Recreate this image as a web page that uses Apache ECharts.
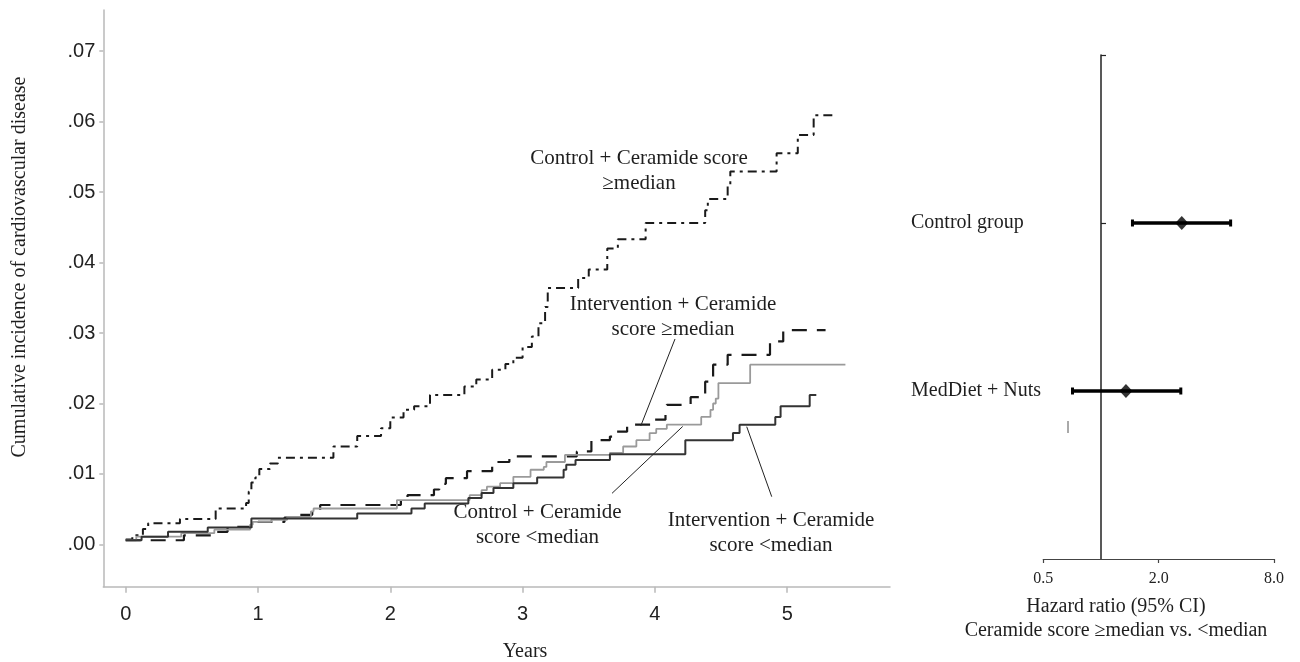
<!DOCTYPE html>
<html>
<head>
<meta charset="utf-8">
<script src="https://cdn.jsdelivr.net/npm/echarts@6/dist/echarts.min.js"></script>
<style>html,body{margin:0;padding:0;background:#fff}#main{width:1300px;height:662px}</style>
</head>
<body>
<div id="main"></div>
<script>
/* Control + Ceramide score >=median */
var ctrlHighT = [0, 0.05, 0.13, 0.17, 0.41, 0.68, 0.91, 0.93, 0.95, 0.98, 1.01, 1.09, 1.15, 1.57, 1.75, 1.93, 2.00, 2.10, 2.18, 2.30, 2.56, 2.65, 2.77, 2.87, 2.93, 3.00, 3.07, 3.12, 3.17, 3.19, 3.42, 3.50, 3.64, 3.72, 3.93, 4.38, 4.40, 4.55, 4.57, 4.92, 5.08, 5.20, 5.37];
var ctrlHighV = [0.0007, 0.0013, 0.0022, 0.0030, 0.0036, 0.0051, 0.0059, 0.0075, 0.0088, 0.0095, 0.0107, 0.0115, 0.0123, 0.0139, 0.0154, 0.0165, 0.0180, 0.0191, 0.0196, 0.0212, 0.0224, 0.0234, 0.0248, 0.0256, 0.0265, 0.0280, 0.0295, 0.0314, 0.0337, 0.0364, 0.0378, 0.0390, 0.0420, 0.0433, 0.0456, 0.0474, 0.0490, 0.0508, 0.0529, 0.0555, 0.0581, 0.0609, 0.0609];
/* Intervention + Ceramide score >=median */
var intHighT = [0, 0.44, 0.67, 0.77, 1.00, 1.20, 1.30, 1.41, 1.47, 2.08, 2.13, 2.33, 2.37, 2.42, 2.58, 2.77, 2.90, 3.41, 3.52, 3.66, 3.70, 3.79, 3.99, 4.08, 4.09, 4.27, 4.38, 4.44, 4.55, 4.87, 4.97, 5.29];
var intHighV = [0.0006, 0.0013, 0.0018, 0.0025, 0.0032, 0.0038, 0.0042, 0.0049, 0.0056, 0.0063, 0.0070, 0.0078, 0.0086, 0.0094, 0.0104, 0.0117, 0.0125, 0.0132, 0.0148, 0.0153, 0.0160, 0.0170, 0.0177, 0.0186, 0.0198, 0.0209, 0.0231, 0.0255, 0.0269, 0.0288, 0.0304, 0.0304];
/* Control + Ceramide score <median */
var ctrlLowT = [0, 0.08, 0.42, 0.67, 0.94, 0.96, 1.10, 1.22, 1.40, 1.42, 2.05, 2.60, 2.69, 2.73, 2.83, 2.93, 3.06, 3.16, 3.18, 3.32, 3.66, 3.76, 3.86, 3.96, 4.01, 4.09, 4.35, 4.42, 4.44, 4.46, 4.48, 4.72, 5.44];
var ctrlLowV = [0.0006, 0.0011, 0.0016, 0.0021, 0.0028, 0.0032, 0.0035, 0.0039, 0.0047, 0.0051, 0.0063, 0.0070, 0.0077, 0.0082, 0.0087, 0.0096, 0.0106, 0.0110, 0.0117, 0.0127, 0.0130, 0.0139, 0.0148, 0.0158, 0.0164, 0.0170, 0.0181, 0.0191, 0.0200, 0.0207, 0.0229, 0.0255, 0.0255];
/* Intervention + Ceramide score <median */
var intLowT = [0, 0.12, 0.32, 0.62, 0.95, 1.75, 2.16, 2.26, 2.59, 2.69, 2.78, 2.93, 3.11, 3.31, 3.33, 3.40, 3.66, 4.23, 4.59, 4.64, 4.91, 4.95, 5.17, 5.22];
var intLowV = [0.0006, 0.0011, 0.0018, 0.0024, 0.0037, 0.0044, 0.0051, 0.0058, 0.0066, 0.0073, 0.0080, 0.0087, 0.0095, 0.0106, 0.0113, 0.0120, 0.0128, 0.0148, 0.0158, 0.0170, 0.0181, 0.0196, 0.0212, 0.0212];

/* 坐标轴刻度 */
var yearTicks = [0, 1, 2, 3, 4, 5];
var incTicks = [0, 0.01, 0.02, 0.03, 0.04, 0.05, 0.06, 0.07];
var hrTicks = [0.5, 2, 8];

/* 标注引线 [年, 发生率] */
var leadIntHigh = [[4.152, 0.02915], [3.893, 0.01681]];
var leadCtrlLow = [[3.676, 0.00726], [4.210, 0.01674]];
var leadIntLow = [[4.883, 0.00678], [4.694, 0.01671]];

/* 森林图 */
var forestLabels = ['Control group', 'MedDiet + Nuts'];
var forestRow = [1, 2];
var forestHR = [2.64, 1.35];
var forestLo = [1.46, 0.71];
var forestHi = [4.75, 2.61];

var SERIF = '"Liberation Serif", "Times New Roman", serif';
var SANS = '"Liberation Sans", Arial, sans-serif';
var AXIS_GRAY = '#b9b9b9';

function pairs(t, v) {
	var out = [];
	for (var i = 0; i < t.length; i++) {
		out.push([t[i], v[i]]);
	}
	return out;
}
function lead(p) {
	return [{coord: p[0]}, {coord: p[1]}];
}
function kmLine(name, t, v, color, width, dash, extra) {
	var s = {
		name: name, type: 'line', xAxisIndex: 0, yAxisIndex: 0,
		step: 'end', showSymbol: false, symbol: 'none', animation: false,
		lineStyle: {color: color, width: width, type: dash, cap: 'butt'},
		data: pairs(t, v)
	};
	if (extra) s.markLine = extra;
	return s;
}
function txt(x, y, s, size, align, extra) {
	var st = {text: s, font: size + 'px ' + SERIF, fill: '#1e1e1e', lineHeight: 25,
		align: align, verticalAlign: 'middle', textAlign: align, textVerticalAlign: 'middle'};
	var el = {type: 'text', x: x, y: y, style: st};
	if (extra) el.rotation = extra;
	return el;
}

var forestBars = [];
var forestPts = [];
for (var i = 0; i < forestHR.length; i++) {
	forestBars.push([forestHR[i], forestLo[i], forestHi[i], forestRow[i]]);
	forestPts.push([forestHR[i], forestRow[i]]);
}

var chart = echarts.init(document.getElementById('main'));
var option = {
	backgroundColor: '#fff',
	animation: false,
	grid: [
		{left: 103.3, top: 10, width: 786.7, height: 576.7},
		{left: 1043.3, top: 55, width: 230.7, height: 504}
	],
	xAxis: [{
		gridIndex: 0, type: 'value', min: -0.1693, max: 5.777,
		axisLine: {show: true, onZero: false, lineStyle: {color: AXIS_GRAY, width: 1.5}},
		axisTick: {show: true, customValues: yearTicks, length: 6, lineStyle: {color: AXIS_GRAY, width: 1.5}},
		axisLabel: {customValues: yearTicks, fontSize: 20, color: '#222', fontFamily: SANS, margin: 18},
		splitLine: {show: false}
	}, {
		gridIndex: 1, type: 'log', logBase: 2, min: 0.5, max: 8,
		axisLine: {show: true, onZero: false, lineStyle: {color: '#444', width: 1.2}},
		axisTick: {show: true, customValues: hrTicks, length: 4, lineStyle: {color: '#444', width: 1.2}},
		axisLabel: {customValues: hrTicks, fontSize: 16, color: '#222', fontFamily: SERIF, margin: 12,
			formatter: function (v) { return Number(v).toFixed(1); }},
		splitLine: {show: false}
	}],
	yAxis: [{
		gridIndex: 0, type: 'value', min: -0.00599, max: 0.07582,
		axisLine: {show: true, onZero: false, lineStyle: {color: AXIS_GRAY, width: 1.5}},
		axisTick: {show: true, customValues: incTicks, length: 4, lineStyle: {color: AXIS_GRAY, width: 1.5}},
		axisLabel: {customValues: incTicks, fontSize: 20, color: '#222', fontFamily: SANS, margin: 8,
			formatter: function (v) { return Number(v).toFixed(2).replace(/^0/, ''); }},
		splitLine: {show: false}
	}, {
		gridIndex: 1, type: 'value', min: 0, max: 3, inverse: true, offset: -57.7,
		axisLine: {show: true, onZero: false, lineStyle: {color: '#222', width: 1.5}},
		axisTick: {show: true, inside: true, customValues: [0, 1], length: 5, lineStyle: {color: '#222', width: 1.2}},
		axisLabel: {show: false},
		splitLine: {show: false}
	}],
	series: [
		kmLine('Control + Ceramide score >=median', ctrlHighT, ctrlHighV, '#1a1a1a', 2, [9, 5, 3, 5]),
		kmLine('Intervention + Ceramide score >=median', intHighT, intHighV, '#1a1a1a', 2.2, [15, 10], {
			silent: true, symbol: ['none', 'none'], label: {show: false},
			lineStyle: {color: '#222', width: 1, type: 'solid'},
			data: [lead(leadIntHigh), lead(leadCtrlLow), lead(leadIntLow)]
		}),
		kmLine('Control + Ceramide score <median', ctrlLowT, ctrlLowV, '#9a9a9a', 1.8, 'solid'),
		kmLine('Intervention + Ceramide score <median', intLowT, intLowV, '#333', 2, 'solid'),
		{
			type: 'custom', xAxisIndex: 1, yAxisIndex: 1,
			renderItem: function (params, api) {
				var y = api.value(3);
				var lo = api.coord([api.value(1), y]);
				var hi = api.coord([api.value(2), y]);
				var st = {stroke: '#000', lineWidth: 3.5};
				var cap = {stroke: '#000', lineWidth: 3};
				return {type: 'group', children: [
					{type: 'line', shape: {x1: lo[0], y1: lo[1], x2: hi[0], y2: hi[1]}, style: st},
					{type: 'line', shape: {x1: lo[0], y1: lo[1] - 3.5, x2: lo[0], y2: lo[1] + 3.5}, style: cap},
					{type: 'line', shape: {x1: hi[0], y1: hi[1] - 3.5, x2: hi[0], y2: hi[1] + 3.5}, style: cap}
				]};
			},
			encode: {x: [1, 2], y: 3},
			data: forestBars
		},
		{
			type: 'scatter', xAxisIndex: 1, yAxisIndex: 1, z: 5,
			symbol: 'diamond', symbolSize: [13, 14],
			itemStyle: {color: '#000'},
			data: forestPts
		}
	],
	graphic: [
		txt(20, 267, 'Cumulative incidence of cardiovascular disease', 20, 'center', Math.PI / 2),
		txt(525, 652, 'Years', 20, 'center'),
		txt(639, 170.5, 'Control + Ceramide score\n\u2265median', 21, 'center'),
		txt(673, 317, 'Intervention + Ceramide\nscore \u2265median', 21, 'center'),
		txt(537.5, 524.5, 'Control + Ceramide\nscore <median', 21, 'center'),
		txt(771, 532.5, 'Intervention + Ceramide\nscore <median', 21, 'center'),
		txt(911, 222.7, forestLabels[0], 20, 'left'),
		txt(911, 391, forestLabels[1], 20, 'left'),
		txt(1116, 607, 'Hazard ratio (95% CI)', 20, 'center'),
		txt(1116, 631, 'Ceramide score \u2265median vs. <median', 20, 'center'),
		{type: 'line', shape: {x1: 1068, y1: 421, x2: 1068, y2: 433}, style: {stroke: '#555', lineWidth: 1}}
	]
};
chart.setOption(option);
</script>
</body>
</html>
